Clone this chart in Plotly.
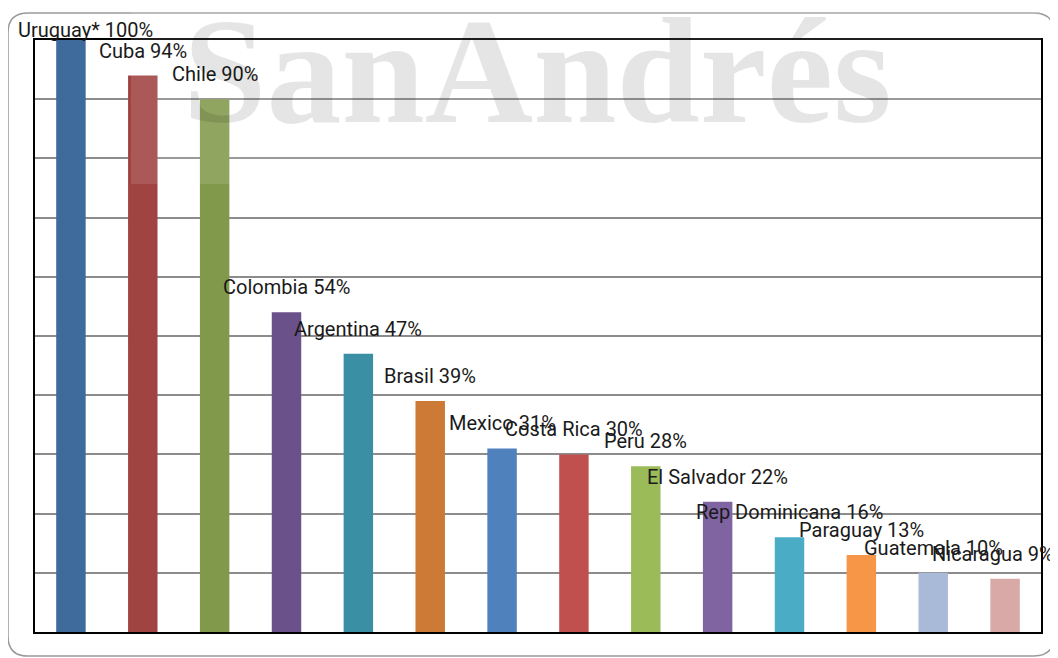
import plotly.graph_objects as go

countries = ["Uruguay*", "Cuba", "Chile", "Colombia", "Argentina", "Brasil", "Mexico",
             "Costa Rica", "Peru", "El Salvador", "Rep Dominicana", "Paraguay",
             "Guatemala", "Nicaragua"]
values = [100, 94, 90, 54, 47, 39, 31, 30, 28, 22, 16, 13, 10, 9]
colors = ["#3F6A9C", "#A04341", "#81994A", "#6A5189", "#3A8FA4", "#CD7A36", "#4F81BD",
          "#C0504D", "#9BBB59", "#8064A2", "#4BACC6", "#F79646", "#A9BAD8", "#D9A9A8"]
label_xshift = [15, 0, 0, 0, 0, 0, 0, 0, 0, 0, 0, 0, 0, -12]
label_yshift = [-4, 11, 11, 11, 11, 11, 11, 11, 11, 11, 11, 11, 11, 11]

# the page body adds an 8px margin, so lay out in window coordinates minus 8
OFF = 8
W, H = 1058 - OFF, 658 - OFF
L, R, T, B = 35, 1041, 40, 632  # plot area in window pixels

def px(x):
    return (x - L) / (R - L)

def py(y):
    return (B - y) / (B - T)

fig = go.Figure(go.Bar(x=countries, y=values, marker=dict(color=colors, line=dict(width=0)),
                       width=0.41, hoverinfo="x+y"))

annotations = []
for c, v, xs, ys in zip(countries, values, label_xshift, label_yshift):
    annotations.append(dict(x=c, y=v, xref="x", yref="y", text=f"{c} {v}%", showarrow=False,
                            yanchor="bottom", xanchor="center", yshift=ys, xshift=xs,
                            font=dict(family="Roboto", size=20, color="#1a1a1a")))

annotations.append(dict(x=px(537), y=py(71), xref="paper", yref="paper", text="<b>SanAndrés</b>",
                        showarrow=False, xanchor="center", yanchor="middle",
                        font=dict(family="Liberation Serif", size=150, color="rgba(0,0,0,0.1)")))

# rounded outer border
x0, x1, y0, y1, r = px(8), px(1054), py(13), py(656), 20
rx, ry = r / (R - L), r / (B - T)
path = (f"M {x0+rx},{y0} L {x1-rx},{y0} Q {x1},{y0} {x1},{y0-ry} "
        f"L {x1},{y1+ry} Q {x1},{y1} {x1-rx},{y1} L {x0+rx},{y1} Q {x0},{y1} {x0},{y1+ry} "
        f"L {x0},{y0-ry} Q {x0},{y0} {x0+rx},{y0} Z")

shapes = [
    dict(type="path", path=path, xref="paper", yref="paper",
         line=dict(color="#9a9a9a", width=1.5), layer="below"),
    dict(type="rect", xref="paper", yref="paper", x0=px(131), x1=px(1041), y0=py(0), y1=py(184),
         fillcolor="rgba(255,255,255,0.12)", line=dict(width=0), layer="above"),
]

fig.update_layout(
    width=W, height=H,
    margin=dict(l=L - OFF, r=1058 - R, t=T - OFF, b=658 - B),
    paper_bgcolor="white", plot_bgcolor="white",
    showlegend=False,
    xaxis=dict(range=[-0.5, len(countries) - 0.5], showticklabels=False, showgrid=False,
               showline=True, linecolor="black", linewidth=2, mirror=True, ticks="",
               zeroline=False),
    yaxis=dict(range=[0, 100], dtick=10, showticklabels=False, showgrid=True,
               gridcolor="#8c8c8c", gridwidth=1.5, showline=True, linecolor="black",
               linewidth=2, mirror=True, ticks="", zeroline=False),
    annotations=annotations,
    shapes=shapes,
)

fig.write_html("out.html")
